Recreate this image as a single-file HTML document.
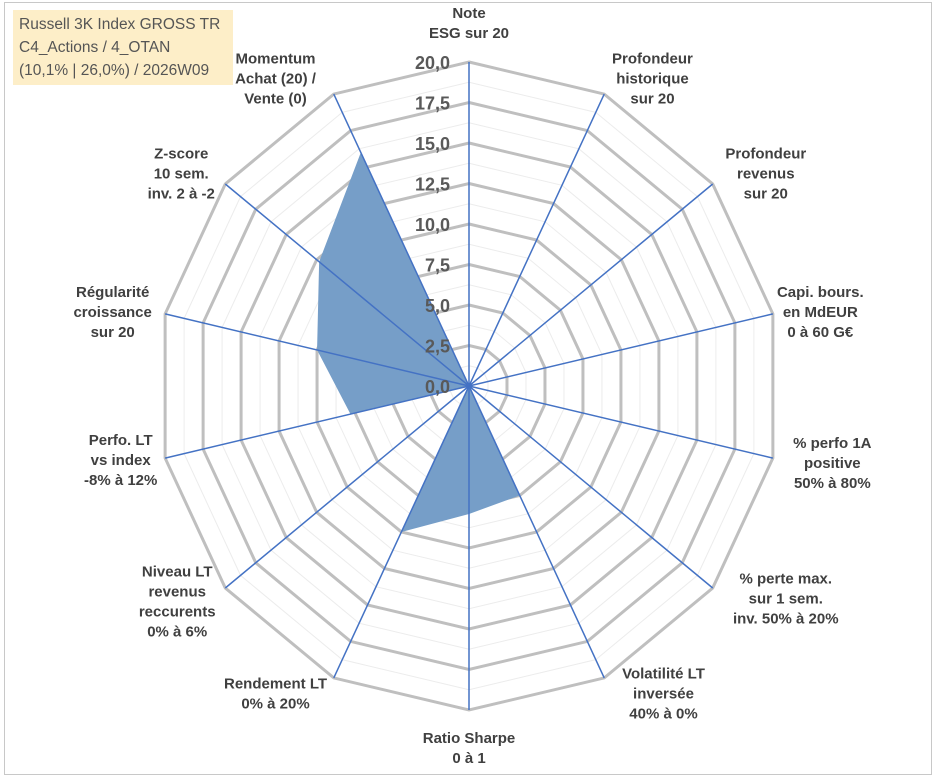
<!DOCTYPE html>
<html><head><meta charset="utf-8"><style>
body{margin:0;width:933px;height:776px;background:#fff;overflow:hidden;font-family:"Liberation Sans",sans-serif}
#frame{position:absolute;left:4px;top:2px;width:926px;height:771px;border:1px solid #c8c8c8}
#title{position:absolute;left:13px;top:10px;width:220px;height:75px;background:#fdeec8;color:#555;font-size:15.5px;line-height:23px;padding:3px 0 0 6px;box-sizing:border-box}
</style></head><body>
<div id="frame"></div>
<svg id="chart" width="933" height="776" style="position:absolute;left:0;top:0"></svg>
<div id="title">Russell 3K Index GROSS TR<br>C4_Actions / 4_OTAN<br>(10,1% | 26,0%) / 2026W09</div>
<script>
const categories=[["Note","ESG sur 20"],["Profondeur","historique","sur 20"],["Profondeur","revenus","sur 20"],["Capi. bours.","en MdEUR","0 à 60 G€"],["% perfo 1A","positive","50% à 80%"],["% perte max.","sur 1 sem.","inv. 50% à 20%"],["Volatilité LT","inversée","40% à 0%"],["Ratio Sharpe","0 à 1"],["Rendement LT","0% à 20%"],["Niveau LT","revenus","reccurents","0% à 6%"],["Perfo. LT","vs index","-8% à 12%"],["Régularité","croissance","sur 20"],["Z-score","10 sem.","inv. 2 à -2"],["Momentum","Achat (20) /","Vente (0)"]];
const values=[0,0,0,0,0,0,7.5,7.9,10,0,7.8,10,12.3,16];
const tickLabels=["0,0","2,5","5,0","7,5","10,0","12,5","15,0","17,5","20,0"];
const maxVal=20;
const svg=document.getElementById('chart');
const NS='http://www.w3.org/2000/svg';
const cx=469,cy=386,R=324,SX=0.962,N=categories.length;
const nudge=[[0,0],[16,31],[-5,3],[-25,3],[-13,0],[15,-3],[27,-29],[0,1],[-26,-19],[10,0],[28,-3],[20,3],[14,3],[-26,31]];
function ang(i){return -Math.PI/2+i*2*Math.PI/N;}
function pt(i,v){const r=v/maxVal*R;return [cx+SX*r*Math.cos(ang(i)),cy+r*Math.sin(ang(i))];}
function mk(t,a,name){const e=document.createElementNS(NS,t);for(const k in a)e.setAttribute(k,a[k]);


svg.appendChild(e);return e;}
for(let k=1;k<=16;k++){const v=k*1.25;const pts=[];for(let i=0;i<N;i++)pts.push(pt(i,v).join(','));
if(k%2)mk('polygon',{points:pts.join(' '),fill:'none',stroke:'#ececec','stroke-width':1},'minor-gridline');}
for(let k=1;k<tickLabels.length;k++){const v=k*2.5;const pts=[];for(let i=0;i<N;i++)pts.push(pt(i,v).join(','));
mk('polygon',{points:pts.join(' '),fill:'none',stroke:'#bfbfbf','stroke-width':3},'major-gridline');}
const sp=values.map((v,i)=>pt(i,v).join(',')).join(' ');
mk('polygon',{points:sp,fill:'rgb(118,158,200)',stroke:'none'},'series-area');
for(let i=0;i<N;i++){const p=pt(i,maxVal);mk('line',{x1:cx,y1:cy,x2:p[0],y2:p[1],stroke:'#4472c4','stroke-width':1.5},'axis-spoke');}
tickLabels.forEach((t,k)=>{const e=mk('text',{x:cx-19,y:cy-k*2.5/maxVal*R+7,'text-anchor':'end','font-size':18,'font-weight':'bold',fill:'#595959'},'tick-label');e.textContent=t;});
categories.forEach((lines,i)=>{const a=ang(i);const r=R+22;let x=cx+r*Math.cos(a),y=cy+r*Math.sin(a);
const c=Math.cos(a),s=Math.sin(a);
if(Math.abs(c)>0.3){x+=40*c;}
const lh=20;let y0=y-(lines.length-1)*lh/2+5;
if(s<-0.9)y0=y-(lines.length-1)*lh-2; if(s>0.9)y0=y+10;
x+=nudge[i][0];y0+=nudge[i][1];
const t=mk('text',{x:x,y:y0,'text-anchor':'middle','font-size':15,'font-weight':'bold',fill:'#404040'},'category-label');
lines.forEach((l,j)=>{const ts=document.createElementNS(NS,'tspan');ts.setAttribute('x',x);ts.setAttribute('y',y0+j*lh);ts.textContent=l;t.appendChild(ts);});});
</script>
</body></html>
